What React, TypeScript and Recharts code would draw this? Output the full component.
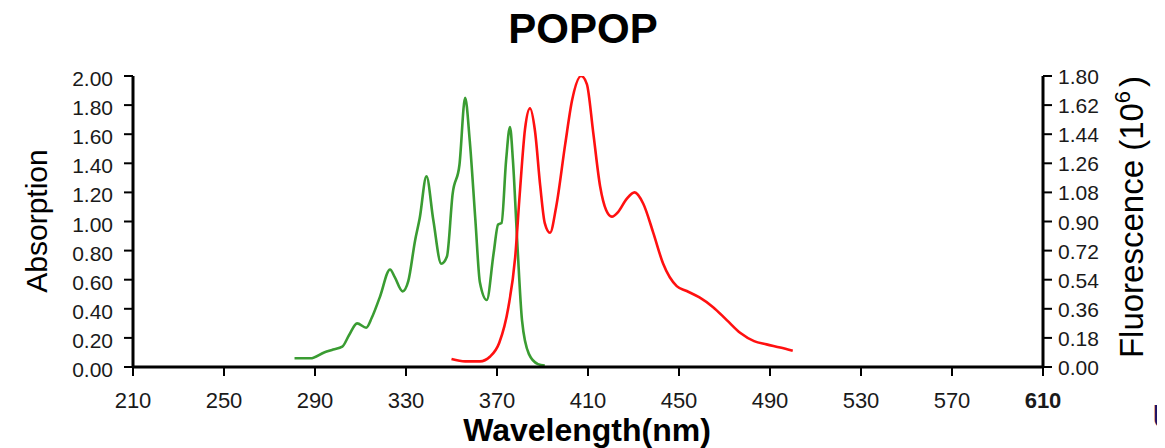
import { ComposedChart, Line, XAxis, YAxis } from 'recharts';

// absorption spectrum (left axis)
const absWavelength = [
  281, 288, 294, 298, 302, 305, 308.5, 312.5, 315, 318.5, 323, 325, 328.5, 331, 334, 336, 339, 342,
  345.5, 348, 350.5, 353.5, 356, 358, 360.5, 362.5, 365.5, 368.5, 370.5, 372, 374, 375.7, 377, 379,
  381, 384, 388, 391,
];
const absValues = [
  0.06, 0.06, 0.1, 0.12, 0.14, 0.22, 0.3, 0.27, 0.34, 0.48, 0.67, 0.62, 0.52, 0.59, 0.87, 1.02, 1.31,
  1.01, 0.71, 0.76, 1.19, 1.39, 1.85, 1.56, 1.01, 0.58, 0.46, 0.78, 0.98, 0.99, 1.42, 1.65, 1.42,
  0.83, 0.32, 0.09, 0.02, 0.01,
];

// fluorescence spectrum (right axis, x10^6)
const flWavelength = [
  350, 356, 362.5, 367, 371, 375, 378, 380, 382.3, 384.5, 386.7, 389, 391, 393.3, 396, 400, 403, 407,
  409.5, 412.3, 415.3, 418, 420.5, 423.3, 427, 430.5, 434.3, 438.7, 443, 449, 453.4, 459, 465, 471,
  477, 483, 488.5, 494.5, 500,
];
const flValues = [
  0.05, 0.035, 0.035, 0.065, 0.15, 0.37, 0.68, 1.07, 1.47, 1.6, 1.46, 1.12, 0.89, 0.83, 0.99, 1.38,
  1.65, 1.8, 1.75, 1.45, 1.12, 0.97, 0.93, 0.96, 1.04, 1.08, 1.01, 0.83, 0.64, 0.5, 0.47, 0.43, 0.37,
  0.29, 0.21, 0.16, 0.14, 0.12, 0.1,
];

const xTicks = [210, 250, 290, 330, 370, 410, 450, 490, 530, 570, 610];
const absTicks = [0, 0.2, 0.4, 0.6, 0.8, 1.0, 1.2, 1.4, 1.6, 1.8, 2.0];
const flTicks = [0, 0.18, 0.36, 0.54, 0.72, 0.9, 1.08, 1.26, 1.44, 1.62, 1.8];

const absData = absWavelength.map((x, i) => ({ x, abs: absValues[i] }));
const flData = flWavelength.map((x, i) => ({ x, fl: flValues[i] }));

const FONT = '"Liberation Sans", Arial, sans-serif';
const W = 1157;
const H = 440;

function XTick({ x, y, payload }: any) {
  const bold = payload.value === 610;
  return (
    <text
      x={x}
      y={y}
      dy={30}
      textAnchor="middle"
      fontFamily={FONT}
      fontSize={22}
      fontWeight={bold ? 'bold' : 'normal'}
      fill="#1a1a1a"
    >
      {payload.value}
    </text>
  );
}

function LeftTick({ x, y, payload }: any) {
  return (
    <text x={x} y={y} dy={10} textAnchor="end" fontFamily={FONT} fontSize={21} fill="#1a1a1a">
      {payload.value.toFixed(2)}
    </text>
  );
}

function RightTick({ x, y, payload }: any) {
  return (
    <text x={x} y={y} dy={8} textAnchor="start" fontFamily={FONT} fontSize={21} fill="#1a1a1a">
      {payload.value.toFixed(2)}
    </text>
  );
}

export default function App() {
  const axisLine = { stroke: '#000', strokeWidth: 3 };
  const tickLine = { stroke: '#000', strokeWidth: 2 };
  return (
    <div style={{ position: 'relative', width: W, height: H, background: '#fff' }}>
      <ComposedChart width={W} height={H} margin={{ top: 68, right: 22, bottom: 21, left: 0 }}>
        <XAxis
          dataKey="x"
          type="number"
          domain={[210, 610]}
          ticks={xTicks}
          allowDataOverflow
          height={60}
          tickSize={9}
          axisLine={axisLine}
          tickLine={tickLine}
          tick={<XTick />}
        />
        <YAxis
          yAxisId="abs"
          orientation="left"
          domain={[0, 2]}
          ticks={absTicks}
          allowDataOverflow
          width={125}
          tickSize={9}
          tickMargin={11}
          axisLine={axisLine}
          tickLine={tickLine}
          tick={<LeftTick />}
        />
        <YAxis
          yAxisId="fl"
          orientation="right"
          domain={[0, 1.8]}
          ticks={flTicks}
          allowDataOverflow
          width={100}
          tickSize={9}
          tickMargin={6}
          axisLine={axisLine}
          tickLine={tickLine}
          tick={<RightTick />}
        />
        <Line
          yAxisId="abs"
          data={absData}
          dataKey="abs"
          type="monotone"
          stroke="#3a9c32"
          strokeWidth={2.6}
          dot={false}
          isAnimationActive={false}
        />
        <Line
          yAxisId="fl"
          data={flData}
          dataKey="fl"
          type="monotone"
          stroke="#ff1010"
          strokeWidth={2.6}
          dot={false}
          isAnimationActive={false}
        />
      </ComposedChart>
      <svg
        width={W}
        height={H}
        style={{ position: 'absolute', left: 0, top: 0, pointerEvents: 'none' }}
        fontFamily={FONT}
      >
        <text x={575} y={35} textAnchor="middle" fontSize={42} fontWeight="bold" fill="#000">
          POPOP
        </text>
        <text
          transform="translate(39,213) rotate(-90)"
          textAnchor="middle"
          fontSize={30}
          fill="#000"
        >
          Absorption
        </text>
        <text
          transform="translate(1135,209) rotate(-90)"
          textAnchor="middle"
          fontSize={33}
          fill="#000"
        >
          Fluorescence (10
          <tspan fontSize={22} dy={-13}>
            6
          </tspan>
          <tspan dy={13} dx={4}>
            )
          </tspan>
        </text>
        <text x={579} y={433} textAnchor="middle" fontSize={32} fontWeight="bold" fill="#000">
          Wavelength(nm)
        </text>
        <text x={1144} y={420} fontSize={34} fill="#1b1464">
          U
        </text>
      </svg>
    </div>
  );
}
